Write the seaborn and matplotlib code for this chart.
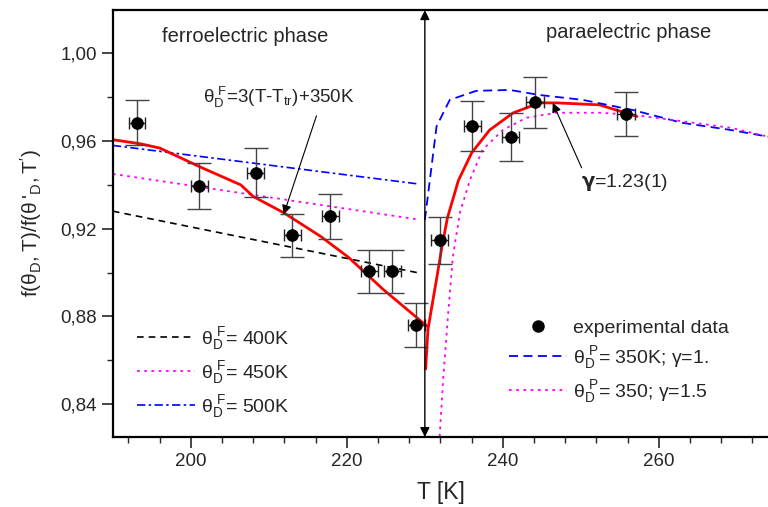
import numpy as np
import pandas as pd
import matplotlib
matplotlib.use("Agg")
import matplotlib.pyplot as plt
from matplotlib.ticker import MultipleLocator, FuncFormatter
from matplotlib.lines import Line2D
import seaborn as sns

# ---------------- data ----------------
exp_T = [193.1, 201.1, 208.3, 213.0, 217.9, 222.9, 225.8, 228.9, 231.9, 236.1, 241.0, 244.1, 255.8]
exp_f = [0.9683, 0.9397, 0.9456, 0.9170, 0.9257, 0.9006, 0.9006, 0.8760, 0.9148, 0.9667, 0.9617, 0.9776, 0.9724]
exp_yerr = [0.0102, 0.0105, 0.0110, 0.0098, 0.0102, 0.0098, 0.0098, 0.0100, 0.0107, 0.0114, 0.0110, 0.0116, 0.0100]
exp_xerr = [1.0, 1.1, 1.1, 1.1, 1.1, 1.1, 1.1, 1.1, 1.1, 1.1, 1.1, 1.15, 1.1]

# ferroelectric model curves
ferro_T = [190.0, 229.0]
ferro400_f = [0.9280, 0.9000]
ferro450_f = [0.9450, 0.9243]
ferro500_f = [0.9580, 0.9405]

# fit curve, ferroelectric side
fitF_T = [190.0, 193.6, 196.0, 201.3, 206.4, 208.0, 211.9, 216.6, 220.2, 224.6, 230.3]
fitF_f = [0.9606, 0.9587, 0.9568, 0.9480, 0.9400, 0.9347, 0.9273, 0.9166, 0.9070, 0.8925, 0.8755]

# fit curve, paraelectric side
fitP_T = [230.1, 230.4, 230.9, 231.5, 232.2, 232.9, 234.3, 236.0, 238.3, 241.3, 244.7, 246.9, 252.4, 257.2]
fitP_f = [0.8560, 0.8740, 0.8846, 0.8970, 0.9120, 0.9250, 0.9420, 0.9546, 0.9650, 0.9728, 0.9774, 0.9774, 0.9765, 0.9712]

# paraelectric model curves
paraG1_T = [230.0, 230.65, 231.5, 233.2, 236.6, 240.9, 244.7, 250.2, 256.6, 263.0, 269.3, 274.0]
paraG1_f = [0.9240, 0.9424, 0.9667, 0.9788, 0.9829, 0.9833, 0.9810, 0.9788, 0.9742, 0.9683, 0.9650, 0.9620]
paraG15_T = [231.9, 232.35, 233.0, 233.6, 234.5, 235.8, 237.4, 240.0, 243.0, 246.9, 252.4, 256.6, 263.0, 269.3, 274.0]
paraG15_f = [0.8253, 0.8515, 0.8820, 0.9075, 0.9274, 0.9424, 0.9560, 0.9650, 0.9706, 0.9729, 0.9729, 0.9720, 0.9690, 0.9660, 0.9620]

T_transition = 230.0

# ---------------- style ----------------
sns.set_style("ticks")
plt.rcParams['font.family'] = ['Liberation Sans', 'DejaVu Sans']
plt.rcParams['mathtext.default'] = 'regular'

fig = plt.figure(figsize=(7.68, 5.07), dpi=100)
ax = fig.add_axes([0.147, 0.138, 0.853, 0.842])

def curve(T, f, **kw):
    df = pd.DataFrame({"T": T, "f": f})
    sns.lineplot(data=df, x="T", y="f", ax=ax, sort=False, estimator=None, **kw)

curve(ferro_T, ferro400_f, color="black", lw=1.2, dashes=(4, 3), label=r"$θ_D^{\ F}$= 400K")
curve(ferro_T, ferro450_f, color="#ff00ff", lw=1.3, dashes=(1.5, 2.5), label=r"$θ_D^{\ F}$= 450K")
curve(ferro_T, ferro500_f, color="#0000ff", lw=1.2, dashes=(5, 2, 1.5, 2), label=r"$θ_D^{\ F}$= 500K")
curve(fitF_T, fitF_f, color="#ff0000", lw=2.0)
curve(fitP_T, fitP_f, color="#ff0000", lw=2.0)
curve(paraG1_T, paraG1_f, color="#0000ff", lw=1.3, dashes=(5, 3))
curve(paraG15_T, paraG15_f, color="#ff00ff", lw=1.3, dashes=(1.5, 2.5))

# error bars
ax.errorbar(exp_T, exp_f, yerr=exp_yerr, fmt="none", ecolor="#444444", elinewidth=1.0, capsize=8.5, capthick=1.0, zorder=3)
ax.errorbar(exp_T, exp_f, xerr=exp_xerr, fmt="none", ecolor="#222222", elinewidth=1.0, capsize=4.5, capthick=1.0, zorder=3)
sns.scatterplot(x=exp_T, y=exp_f, ax=ax, color="black", s=70, marker="o", edgecolor="black", zorder=4)

# axes setup
ax.set_xlim(190, 274)
ax.set_ylim(0.825, 1.0197)
ax.xaxis.set_major_locator(MultipleLocator(20))
ax.xaxis.set_minor_locator(MultipleLocator(4))
ax.yaxis.set_major_locator(MultipleLocator(0.04))
ax.yaxis.set_minor_locator(MultipleLocator(0.02))
ax.yaxis.set_major_formatter(FuncFormatter(lambda v, p: f"{v:.2f}".replace(".", ",")))
ax.tick_params(which="major", length=8, width=1.2, labelsize=13.5, direction="out")
ax.tick_params(which="minor", length=4.5, width=1.0, direction="out")
for s in ["left", "bottom", "top"]:
    ax.spines[s].set_linewidth(1.6)
    ax.spines[s].set_color("black")
ax.spines["right"].set_visible(False)

ax.set_xlabel("T [K]", fontsize=16.5, labelpad=8)
ax.set_ylabel(r"$f(θ_D, T)/f(θ\,'_D, T')$", fontsize=15, labelpad=12)

# transition arrow
ax.annotate("", xy=(T_transition, 1.0197), xytext=(T_transition, 0.825),
            arrowprops=dict(arrowstyle="<|-|>", color="black", lw=1.0,
                            shrinkA=0, shrinkB=0, mutation_scale=14))

# texts
ax.text(207.0, 1.0079, "ferroelectric phase", fontsize=14.5, ha="center", va="center")
ax.text(256.1, 1.0097, "paraelectric phase", fontsize=14.5, ha="center", va="center")
ax.text(201.5, 0.9800, r"$θ_D^{\ F}$=3(T-T$_{tr}$)+350K", fontsize=13.5, ha="left", va="center")
ax.annotate("", xy=(211.9, 0.9265), xytext=(216.1, 0.9715),
            arrowprops=dict(arrowstyle="-|>", color="black", lw=0.8, shrinkA=0, shrinkB=0, mutation_scale=14))
ax.text(250.0, 0.9410, r"$\mathbf{γ}$=1.23(1)", fontsize=14, ha="left", va="center")
ax.annotate("", xy=(246.4, 0.9774), xytext=(250.1, 0.9478),
            arrowprops=dict(arrowstyle="-|>", color="black", lw=0.8, shrinkA=0, shrinkB=0, mutation_scale=14))

# left legend (ferro curves)
leg1 = ax.legend(loc="lower left", bbox_to_anchor=(0.01, 0.0), frameon=False, fontsize=14,
                 handlelength=3.0, labelspacing=0.35, handletextpad=0.3)
ax.add_artist(leg1)

# right legend (para curves + data)
h = [Line2D([], [], color="black", marker="o", ls="none", ms=8),
     Line2D([], [], color="#0000ff", lw=1.3, dashes=(5, 3)),
     Line2D([], [], color="#ff00ff", lw=1.3, dashes=(1.5, 2.5))]
lab = ["experimental data", r"$θ_D^{\ P}$= 350K; γ=1.", r"$θ_D^{\ P}$= 350; γ=1.5"]
ax.legend(h, lab, loc="lower left", bbox_to_anchor=(0.578, 0.035), frameon=False, fontsize=14,
          handlelength=3.0, labelspacing=0.35, handletextpad=0.3)

fig.savefig("out.png", dpi=100)
